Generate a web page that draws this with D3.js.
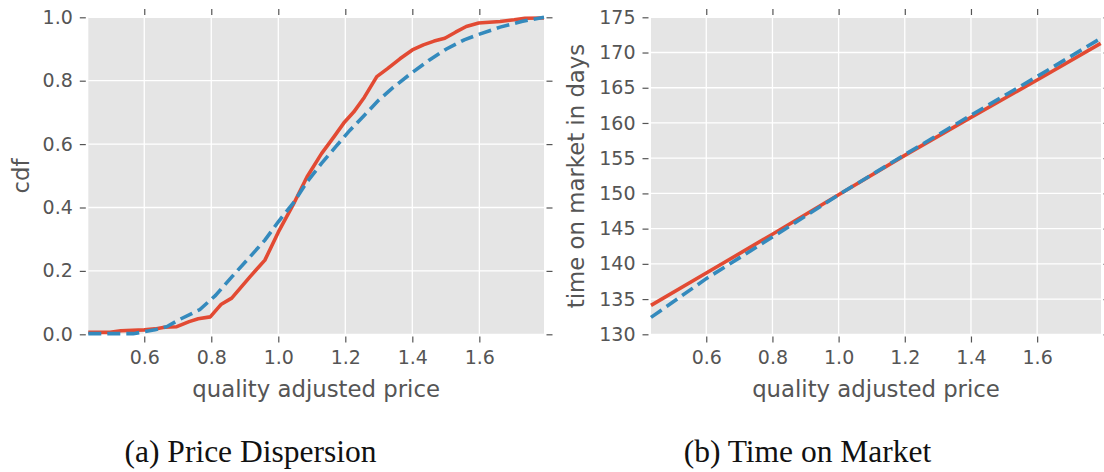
<!DOCTYPE html>
<html>
<head>
<meta charset="utf-8">
<script src="https://cdn.jsdelivr.net/npm/d3@7"></script>
<style>
  body { margin: 0; background: #fff; }
  svg text { font-family: "DejaVu Sans", sans-serif; fill: #555; }
  .caption { font-family: "Liberation Serif", serif; fill: #111; }
</style>
</head>
<body>
<div id="chart"></div>
<script>
// panel (a): cdf of quality adjusted price
var cdfPriceRed = [0.433, 0.498, 0.53, 0.6, 0.632, 0.66, 0.697, 0.734, 0.761, 0.797, 0.83, 0.861, 0.916, 0.96, 1.0, 1.044, 1.086, 1.129, 1.166, 1.198, 1.225, 1.257, 1.294, 1.326, 1.363, 1.4, 1.433, 1.465, 1.497, 1.529, 1.561, 1.598, 1.662, 1.704, 1.736, 1.793];
var cdfRed = [0.006, 0.006, 0.011, 0.014, 0.017, 0.022, 0.024, 0.04, 0.049, 0.055, 0.095, 0.114, 0.182, 0.234, 0.322, 0.408, 0.497, 0.570, 0.623, 0.670, 0.701, 0.748, 0.813, 0.838, 0.869, 0.897, 0.913, 0.925, 0.934, 0.953, 0.971, 0.982, 0.987, 0.992, 0.997, 0.998];
var cdfPriceBlue = [0.433, 0.567, 0.632, 0.667, 0.702, 0.766, 0.812, 0.862, 0.916, 0.96, 1.0, 1.044, 1.086, 1.129, 1.171, 1.214, 1.257, 1.299, 1.342, 1.395, 1.449, 1.502, 1.555, 1.598, 1.662, 1.726, 1.793];
var cdfBlue = [0.002, 0.002, 0.014, 0.024, 0.045, 0.078, 0.122, 0.182, 0.245, 0.297, 0.355, 0.413, 0.481, 0.539, 0.591, 0.644, 0.691, 0.738, 0.778, 0.822, 0.864, 0.900, 0.929, 0.946, 0.969, 0.987, 1.0];

// panel (b): time on market
var tomPrice = [0.433, 0.6, 0.8, 1.0, 1.2, 1.4, 1.6, 1.792];
var tomRed = [134.1, 138.7, 144.2, 149.8, 155.4, 160.8, 166.1, 171.3];
var tomBlue = [132.4, 137.9, 143.8, 149.8, 155.5, 161.1, 166.6, 172.0];

var xTicks = [0.6, 0.8, 1.0, 1.2, 1.4, 1.6];
var cdfTicks = [0.0, 0.2, 0.4, 0.6, 0.8, 1.0];
var tomTicks = [130, 135, 140, 145, 150, 155, 160, 165, 170, 175];

var W = 1104, H = 472;
var red = "#E24A33", blue = "#348ABD";

var svg = d3.select("#chart").append("svg")
  .attr("width", W).attr("height", H);

function zip(xs, ys) { return xs.map(function(x, i){ return [x, ys[i]]; }); }

function panel(opt) {
  var x = d3.scaleLinear().domain([0.433, 1.793]).range([opt.left, opt.right]);
  var y = d3.scaleLinear().domain(opt.ydomain).range([334.3, 17.3]);
  var g = svg.append("g");

  g.append("rect")
    .attr("x", opt.left).attr("y", 17.3)
    .attr("width", opt.right - opt.left).attr("height", 317)
    .attr("fill", "#E5E5E5");

  // grid
  g.selectAll(".vg").data(xTicks).enter().append("line")
    .attr("x1", function(d){ return x(d); }).attr("x2", function(d){ return x(d); })
    .attr("y1", 17.3).attr("y2", 334.3)
    .attr("stroke", "#fff").attr("stroke-width", 1.3);
  g.selectAll(".hg").data(opt.yticks).enter().append("line")
    .attr("x1", opt.left).attr("x2", opt.right)
    .attr("y1", function(d){ return y(d); }).attr("y2", function(d){ return y(d); })
    .attr("stroke", "#fff").attr("stroke-width", 1.3);

  // axes, ticks out on all four sides
  var bottom = g.append("g").attr("transform", "translate(0,336.5)")
    .call(d3.axisBottom(x).tickValues(xTicks).tickFormat(d3.format(".1f")).tickSize(6).tickPadding(8));
  var top = g.append("g").attr("transform", "translate(0,15)")
    .call(d3.axisTop(x).tickValues(xTicks).tickFormat("").tickSize(6));
  var left = g.append("g").attr("transform", "translate(" + (opt.left - 2.5) + ",0)")
    .call(d3.axisLeft(y).tickValues(opt.yticks).tickFormat(opt.fmt).tickSize(6).tickPadding(7));
  var right = g.append("g").attr("transform", "translate(" + (opt.right + 2.5) + ",0)")
    .call(d3.axisRight(y).tickValues(opt.yticks).tickFormat("").tickSize(6));
  [bottom, top, left, right].forEach(function(a){
    a.select(".domain").remove();
    a.selectAll("line").attr("stroke", "#555").attr("stroke-width", 1.2);
    a.selectAll("text").attr("fill", "#555").style("font-size", "19px")
      .style("font-family", "DejaVu Sans");
  });

  var line = d3.line()
    .x(function(d){ return x(d[0]); })
    .y(function(d){ return y(d[1]); });

  g.append("path").datum(opt.red)
    .attr("d", line).attr("fill", "none")
    .attr("stroke", red).attr("stroke-width", 3.6)
    .attr("stroke-linejoin", "round");
  g.append("path").datum(opt.blue)
    .attr("d", line).attr("fill", "none")
    .attr("stroke", blue).attr("stroke-width", 3.6)
    .attr("stroke-dasharray", "13,6");

  g.append("text")
    .attr("x", (opt.left + opt.right) / 2 - 0).attr("y", 397)
    .attr("text-anchor", "middle").style("font-size", "22.8px")
    .text("quality adjusted price");

  g.append("text")
    .attr("transform", "translate(" + opt.ylabelX + ",176) rotate(-90)")
    .attr("text-anchor", "middle").attr("dy", "0.35em").style("font-size", "22.8px")
    .text(opt.ylabel);

  svg.append("text").attr("class", "caption")
    .attr("x", opt.capX).attr("y", 462)
    .attr("text-anchor", "middle").style("font-size", "31.5px")
    .text(opt.caption);
}

panel({
  left: 88.3, right: 544,
  ydomain: [0, 1], yticks: cdfTicks, fmt: d3.format(".1f"),
  red: zip(cdfPriceRed, cdfRed), blue: zip(cdfPriceBlue, cdfBlue),
  ylabel: "cdf", ylabelX: 21,
  caption: "(a) Price Dispersion", capX: 250.5
});

panel({
  left: 651, right: 1101,
  ydomain: [130, 175], yticks: tomTicks, fmt: d3.format("d"),
  red: zip(tomPrice, tomRed), blue: zip(tomPrice, tomBlue),
  ylabel: "time on market in days", ylabelX: 576,
  caption: "(b) Time on Market", capX: 807.5
});
</script>
</body>
</html>
